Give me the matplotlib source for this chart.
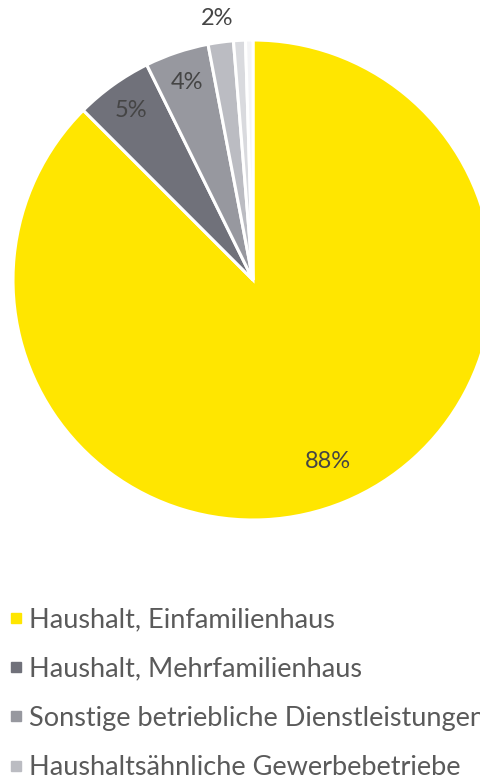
import matplotlib
matplotlib.use("Agg")
import matplotlib.pyplot as plt
from matplotlib.lines import Line2D
import numpy as np

plt.rcParams['font.family'] = ['Lato', 'DejaVu Sans']

# Anteile (in %), im Uhrzeigersinn ab 12 Uhr
kategorien = ['Haushalt, Einfamilienhaus', 'Haushalt, Mehrfamilienhaus',
              'Sonstige betriebliche Dienstleistungen', 'Haushaltsähnliche Gewerbebetriebe',
              'Sonstige', 'Übrige']
anteile = [87.5, 5.2, 4.3, 1.7, 0.8, 0.5]
farben = ['#ffe600', '#70717a', '#97989f', '#bbbcc2', '#d9dade', '#f4f4f6']

W, H = 481, 781
fig = plt.figure(figsize=(W / 100, H / 100), dpi=100)
ax = fig.add_axes([0, 0, 1, 1])

cx, cy, r = 253, H - 280, 240
wedges, _ = ax.pie(anteile, colors=farben, startangle=90, counterclock=False,
                   center=(cx, cy), radius=r, frame=True,
                   wedgeprops=dict(edgecolor='white', linewidth=2.2))
ax.set_xlim(0, W)
ax.set_ylim(0, H)
ax.axis('off')

# Beschriftungen
dist = [0.82, 0.87, 0.87, 1.1, None, None]
for w, val, d in zip(wedges, anteile, dist):
    if d is None:
        continue
    ang = np.deg2rad((w.theta1 + w.theta2) / 2)
    ax.text(cx + d * r * np.cos(ang), cy + d * r * np.sin(ang), f"{val:.0f}%",
            ha='center', va='center', fontsize=17, color='#454545')

handles = [Line2D([], [], marker='s', linestyle='none', markersize=6.5,
                  markerfacecolor=c, markeredgecolor=c) for c in farben[:4]]
leg = ax.legend(handles, kategorien[:4], loc='upper left', bbox_to_anchor=(9 / W, 1 - 607 / H),
                frameon=False, fontsize=19.5, handlelength=0.5, handletextpad=0.25,
                labelspacing=0.9, borderaxespad=0, borderpad=0)
for t in leg.get_texts():
    t.set_color('#5a5a5a')

fig.savefig('out.png', dpi=100)
